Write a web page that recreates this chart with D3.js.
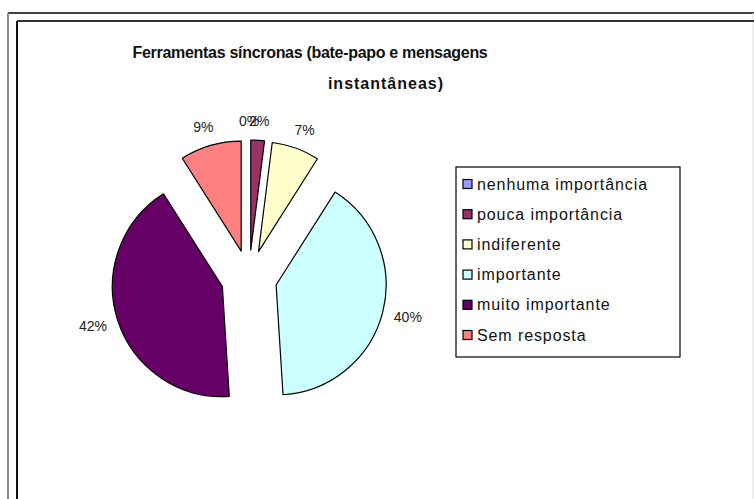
<!DOCTYPE html>
<meta charset="utf-8">
<style>
  body { margin: 0; background: #fff; }
  text { font-family: Arial, "Liberation Sans", sans-serif; fill: #111; }
</style>
<svg width="754" height="499"></svg>
<script src="https://cdnjs.cloudflare.com/ajax/libs/d3/7.8.5/d3.min.js"></script>
<script>

	var categories = ["nenhuma importância", "pouca importância", "indiferente", "importante", "muito importante", "Sem resposta"];
	var values = [0, 2, 7, 40, 42, 9];
	var colors = ["#9999FF", "#993366", "#FFFFCC", "#CCFFFF", "#660066", "#FF8080"];
	var titleLines = ["Ferramentas síncronas (bate-papo e mensagens", "instantâneas)"];

	var svg = d3.select("svg"),
		cx = 249, cy = 278,
		radius = 110,
		explode = 28,
		labelRadius = 150;

	// FRAMES (cut by the window on right and bottom)
	svg.append("line").attr("x1", 8).attr("y1", 13).attr("x2", 754).attr("y2", 13)
		.attr("stroke", "#000").attr("stroke-width", 1.5);
	svg.append("line").attr("x1", 8).attr("y1", 13).attr("x2", 8).attr("y2", 499)
		.attr("stroke", "#888").attr("stroke-width", 2);
	svg.append("line").attr("x1", 753).attr("y1", 13).attr("x2", 753).attr("y2", 499)
		.attr("stroke", "#ddd").attr("stroke-width", 1);
	svg.append("line").attr("x1", 17).attr("y1", 21).attr("x2", 754).attr("y2", 21)
		.attr("stroke", "#333").attr("stroke-width", 2);
	svg.append("line").attr("x1", 17).attr("y1", 21).attr("x2", 17).attr("y2", 499)
		.attr("stroke", "#111").attr("stroke-width", 2);

	// TITLE
	var title = svg.append("g")
		.attr("font-weight", "bold")
		.style("font-size", "16px");
	title.append("text")
		.attr("x", 310).attr("y", 58)
		.attr("text-anchor", "middle")
		.style("letter-spacing", "-0.3px")
		.text(titleLines[0]);
	title.append("text")
		.attr("x", 386).attr("y", 89)
		.attr("text-anchor", "middle")
		.style("letter-spacing", "1px")
		.text(titleLines[1]);

	// PIE
	var pie = d3.pie().sort(null).value(function(d) { return d; });
	var arc = d3.arc().innerRadius(0).outerRadius(radius);
	var arcs = pie(values);

	var g = svg.append("g").attr("transform", "translate(" + cx + "," + cy + ")");

	function mid(d) { return (d.startAngle + d.endAngle) / 2; }

	g.selectAll(".slice")
		.data(arcs.filter(function(d) { return d.value > 0; }))
		.enter().append("path")
		.attr("class", "slice")
		.attr("transform", function(d) {
			var a = mid(d);
			return "translate(" + (Math.sin(a) * explode) + "," + (-Math.cos(a) * explode) + ")";
		})
		.attr("d", arc)
		.attr("fill", function(d) { return colors[d.index]; })
		.attr("stroke", "#000")
		.attr("stroke-width", 1.2)
		.attr("stroke-linejoin", "round");

	// labels sit outside the slice, pushed out by half their box
	var lw = 28, lh = 14;
	g.selectAll(".lbl")
		.data(arcs)
		.enter().append("text")
		.attr("class", "lbl")
		.attr("x", function(d) { var s = Math.sin(mid(d)); return s * labelRadius + s * lw / 2; })
		.attr("y", function(d) { var c = Math.cos(mid(d)); return -c * labelRadius - c * lh / 2; })
		.attr("dy", "0.35em")
		.attr("text-anchor", "middle")
		.style("font-size", "14px")
		.style("fill", "#222")
		.text(function(d) { return d.value + "%"; });

	// LEGEND
	var legend = svg.append("g");
	legend.append("rect")
		.attr("x", 456).attr("y", 167)
		.attr("width", 224).attr("height", 190)
		.attr("fill", "#fff")
		.attr("stroke", "#000")
		.attr("stroke-width", 1.2);

	var item = legend.selectAll(".item")
		.data(categories)
		.enter().append("g")
		.attr("class", "item")
		.attr("transform", function(d, i) { return "translate(463," + (184 + i * 30.2) + ")"; });

	item.append("rect")
		.attr("x", 0).attr("y", -4.5)
		.attr("width", 9).attr("height", 9)
		.attr("fill", function(d, i) { return colors[i]; })
		.attr("stroke", "#000")
		.attr("stroke-width", 1.2);

	item.append("text")
		.attr("x", 14).attr("dy", "0.35em")
		.style("font-size", "16px")
		.style("letter-spacing", "0.9px")
		.text(function(d) { return d; });

</script>
